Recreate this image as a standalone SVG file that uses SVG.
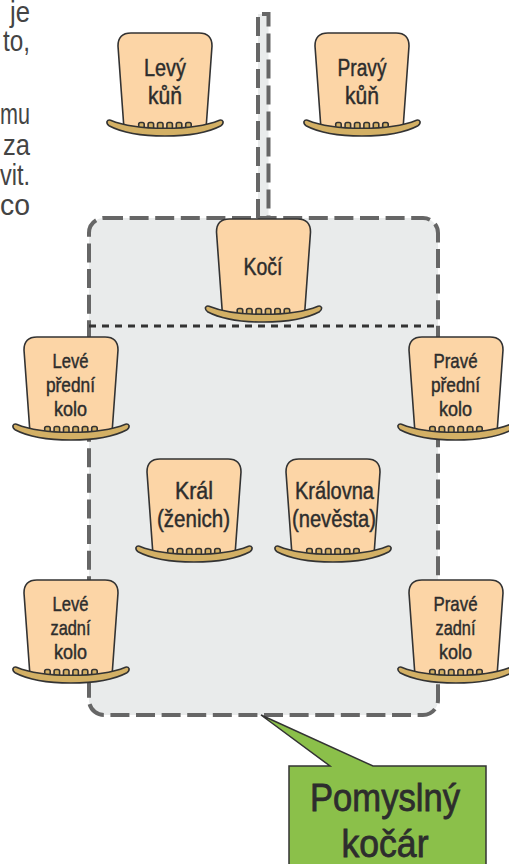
<svg xmlns="http://www.w3.org/2000/svg" width="509" height="864" viewBox="0 0 509 864">
<style>
.body{fill:#fcd5a6;stroke:#333;stroke-width:1.6}
.brim{fill:#d3b065;stroke:#333;stroke-width:1.6}
.bump{fill:#d3b065;stroke:#333;stroke-width:1.6}
text{font-family:"Liberation Sans",Arial,sans-serif;fill:#2d2d2d;stroke:#2d2d2d;stroke-width:.45;text-anchor:middle}
.l{font-size:23.500px}
.s{font-size:21px}
.side{font-size:29px;fill:#444;stroke:none;text-anchor:end}
.big{font-size:39px;stroke-width:.8}
</style>
<defs>
<g id="hat">
<path class="body" d="M-41,96 L-47,13 Q-47,0 -34,0 L34,0 Q47,0 47,13 L41,96 Z"/>
<g class="bump">
<rect x="-26.300" y="89.500" width="5.500" height="9" rx="1.800"/><rect x="-16.900" y="89.500" width="5.500" height="9" rx="1.800"/><rect x="-7.500" y="89.500" width="5.500" height="9" rx="1.800"/><rect x="1.900" y="89.500" width="5.500" height="9" rx="1.800"/><rect x="11.300" y="89.500" width="5.500" height="9" rx="1.800"/><rect x="20.700" y="89.500" width="5.500" height="9" rx="1.800"/>
</g>
<path class="brim" d="M-54.500,87.200 C-28,98 28,98 54.500,87.200 Q57,86.500 58,88.500 Q58.500,91 56,92.700 C30,106.500 -30,106.500 -56,92.700 Q-58.500,91 -58,88.500 Q-57,86.500 -54.500,87.200 Z"/>
</g>
</defs>
<g id="side-text">
<text class="side" x="30" y="22" textLength="20" lengthAdjust="spacingAndGlyphs">je</text>
<text class="side" x="30" y="51" textLength="27" lengthAdjust="spacingAndGlyphs">to,</text>
<text class="side" x="30" y="124" textLength="30" lengthAdjust="spacingAndGlyphs">mu</text>
<text class="side" x="30" y="155" textLength="27" lengthAdjust="spacingAndGlyphs">za</text>
<text class="side" x="30" y="185" textLength="30" lengthAdjust="spacingAndGlyphs">vit.</text>
<text class="side" x="30" y="215" textLength="30" lengthAdjust="spacingAndGlyphs">co</text>
</g>
<g id="connectors">
<path d="M258,218 V14 H268.500 V218 Z" fill="#e9ebeb"/>
<path d="M258,218 V14 H268.500 V218" fill="none" stroke="#666" stroke-width="4" stroke-dasharray="19 7"/>
</g>
<g id="carriage">
<rect x="89" y="218" width="349" height="497" rx="15" fill="#e9ebeb" stroke="#666" stroke-width="4" stroke-dasharray="19 6.600"/>
<line x1="89" y1="326" x2="438" y2="326" stroke="#333" stroke-width="3" stroke-dasharray="7 6"/>
</g>
<g id="levy-kun"><use href="#hat" x="165" y="33"/><text class="l" x="165" y="76" textLength="42" lengthAdjust="spacingAndGlyphs">Levý</text><text class="l" x="165" y="104" textLength="34" lengthAdjust="spacingAndGlyphs">kůň</text></g>
<g id="pravy-kun"><use href="#hat" x="362" y="33"/><text class="l" x="362" y="76" textLength="49" lengthAdjust="spacingAndGlyphs">Pravý</text><text class="l" x="362" y="104" textLength="34" lengthAdjust="spacingAndGlyphs">kůň</text></g>
<g id="koci"><use href="#hat" x="263.500" y="219"/><text class="l" x="263" y="275" textLength="39" lengthAdjust="spacingAndGlyphs">Kočí</text></g>
<g id="leve-predni"><use href="#hat" x="71" y="337"/><text class="s" x="70.500" y="368" textLength="36" lengthAdjust="spacingAndGlyphs">Levé</text><text class="s" x="70.500" y="392" textLength="49" lengthAdjust="spacingAndGlyphs">přední</text><text class="s" x="70.500" y="416" textLength="33" lengthAdjust="spacingAndGlyphs">kolo</text></g>
<g id="prave-predni"><use href="#hat" x="456" y="337"/><text class="s" x="455.500" y="368" textLength="44" lengthAdjust="spacingAndGlyphs">Pravé</text><text class="s" x="455.500" y="392" textLength="49" lengthAdjust="spacingAndGlyphs">přední</text><text class="s" x="455.500" y="416" textLength="33" lengthAdjust="spacingAndGlyphs">kolo</text></g>
<g id="kral"><use href="#hat" x="194" y="459"/><text class="l" x="194" y="499" textLength="38" lengthAdjust="spacingAndGlyphs">Král</text><text class="l" x="193.500" y="527" textLength="73" lengthAdjust="spacingAndGlyphs">(ženich)</text></g>
<g id="kralovna"><use href="#hat" x="333" y="459"/><text class="l" x="334.500" y="499" textLength="79" lengthAdjust="spacingAndGlyphs">Královna</text><text class="l" x="334" y="527" textLength="84" lengthAdjust="spacingAndGlyphs">(nevěsta)</text></g>
<g id="leve-zadni"><use href="#hat" x="71" y="580"/><text class="s" x="70.500" y="611" textLength="36" lengthAdjust="spacingAndGlyphs">Levé</text><text class="s" x="70.500" y="635" textLength="40" lengthAdjust="spacingAndGlyphs">zadní</text><text class="s" x="70.500" y="659" textLength="33" lengthAdjust="spacingAndGlyphs">kolo</text></g>
<g id="prave-zadni"><use href="#hat" x="456" y="580"/><text class="s" x="455.500" y="611" textLength="44" lengthAdjust="spacingAndGlyphs">Pravé</text><text class="s" x="455.500" y="635" textLength="40" lengthAdjust="spacingAndGlyphs">zadní</text><text class="s" x="455.500" y="659" textLength="33" lengthAdjust="spacingAndGlyphs">kolo</text></g>
<g id="pomyslny-kocar">
<path d="M261,715 L373,766 H486 V866 H289 V766 H330 Z" fill="#8bc04a" stroke="#333" stroke-width="1.500"/>
<text class="big" x="385" y="811" textLength="150" lengthAdjust="spacingAndGlyphs">Pomyslný</text>
<text class="big" x="385" y="857" textLength="87" lengthAdjust="spacingAndGlyphs">kočár</text>
</g>
</svg>
